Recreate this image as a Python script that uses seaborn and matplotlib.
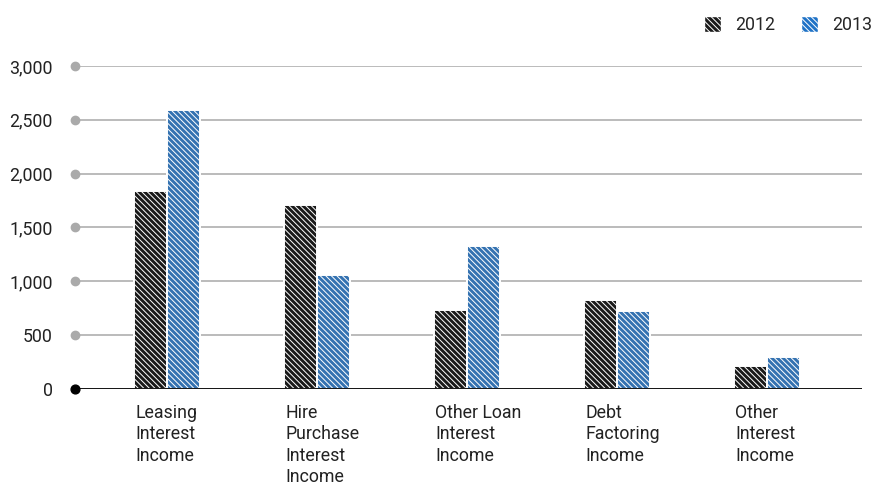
import matplotlib
matplotlib.use("Agg")
import matplotlib.pyplot as plt
import matplotlib.transforms as mtransforms
from matplotlib.patches import Patch
import seaborn as sns
import pandas as pd

categories = [
    "Leasing\nInterest\nIncome",
    "Hire\nPurchase\nInterest\nIncome",
    "Other Loan\nInterest\nIncome",
    "Debt\nFactoring\nIncome",
    "Other\nInterest\nIncome",
]
years = ["2012", "2013"]
values_2012 = [1840, 1710, 735, 825, 215]
values_2013 = [2590, 1060, 1330, 725, 298]
y_ticks = [0, 500, 1000, 1500, 2000, 2500, 3000]
y_tick_labels = ["0", "500", "1,000", "1,500", "2,000", "2,500", "3,000"]

colors = {"2012": "#1a1a1a", "2013": "#1f72c6"}
grid_grey = "#b5b5b5"
hatch = "\\" * 6
font_size = 12.8

sns.set_theme(style="white")
plt.rcParams["font.family"] = ["Roboto", "DejaVu Sans"]
plt.rcParams["hatch.linewidth"] = 0.7

df = pd.DataFrame({
    "category": categories * 2,
    "year": [years[0]] * len(categories) + [years[1]] * len(categories),
    "value": values_2012 + values_2013,
})

fig = plt.figure(figsize=(8.72, 4.86), dpi=100)
ax = fig.add_axes([75 / 872, 97 / 486, 787 / 872, 323 / 486])

sns.barplot(data=df, x="category", y="value", hue="year", palette=colors,
            width=0.44, gap=0, edgecolor="white", linewidth=1.4,
            legend=False, ax=ax, zorder=2)
for bar in ax.patches:
    bar.set_hatch(hatch)

ax.set_xlim(-0.613, 4.633)
ax.set_ylim(0, 3000)
ax.set_xlabel("")
ax.set_ylabel("")
for s in ax.spines.values():
    s.set_visible(False)

# horizontal guide lines with a dot at their left end
for t in y_ticks[1:]:
    ax.axhline(t, color=grid_grey, lw=1.3, zorder=1)
ax.axhline(0, color="black", lw=1.3, zorder=3)
ax.scatter([-0.613] * (len(y_ticks) - 1), y_ticks[1:], s=36, color="#aaaaaa",
           clip_on=False, zorder=4)
ax.scatter([-0.613], [0], s=40, color="black", clip_on=False, zorder=4)

ax.set_yticks(y_ticks)
ax.set_yticklabels(y_tick_labels)
ax.tick_params(axis="y", length=0, pad=16, labelsize=font_size, labelcolor="#222222")

# category separators below the axis
ax.set_xticks([i - 0.5 for i in range(len(categories) + 1)])
ax.set_xticklabels([])
ax.tick_params(axis="x", length=10, width=1.3, color="#bbbbbb", direction="out")

# category names, left-aligned with the bar pairs
trans = mtransforms.blended_transform_factory(ax.transData, ax.transAxes)
for i, name in enumerate(categories):
    ax.text(i - 0.213, -0.045, name, transform=trans, ha="left", va="top",
            fontsize=font_size, color="#222222", linespacing=1.25)

handles = [Patch(facecolor=colors[y], edgecolor="white", hatch=hatch, label=y)
           for y in years]
fig.legend(handles=handles, loc="upper right", bbox_to_anchor=(1.018, 1.0),
           ncol=2, frameon=False, fontsize=font_size, handlelength=1.0,
           handleheight=1.0, handletextpad=0.75, columnspacing=1.45)

fig.savefig("out.png", dpi=100)
